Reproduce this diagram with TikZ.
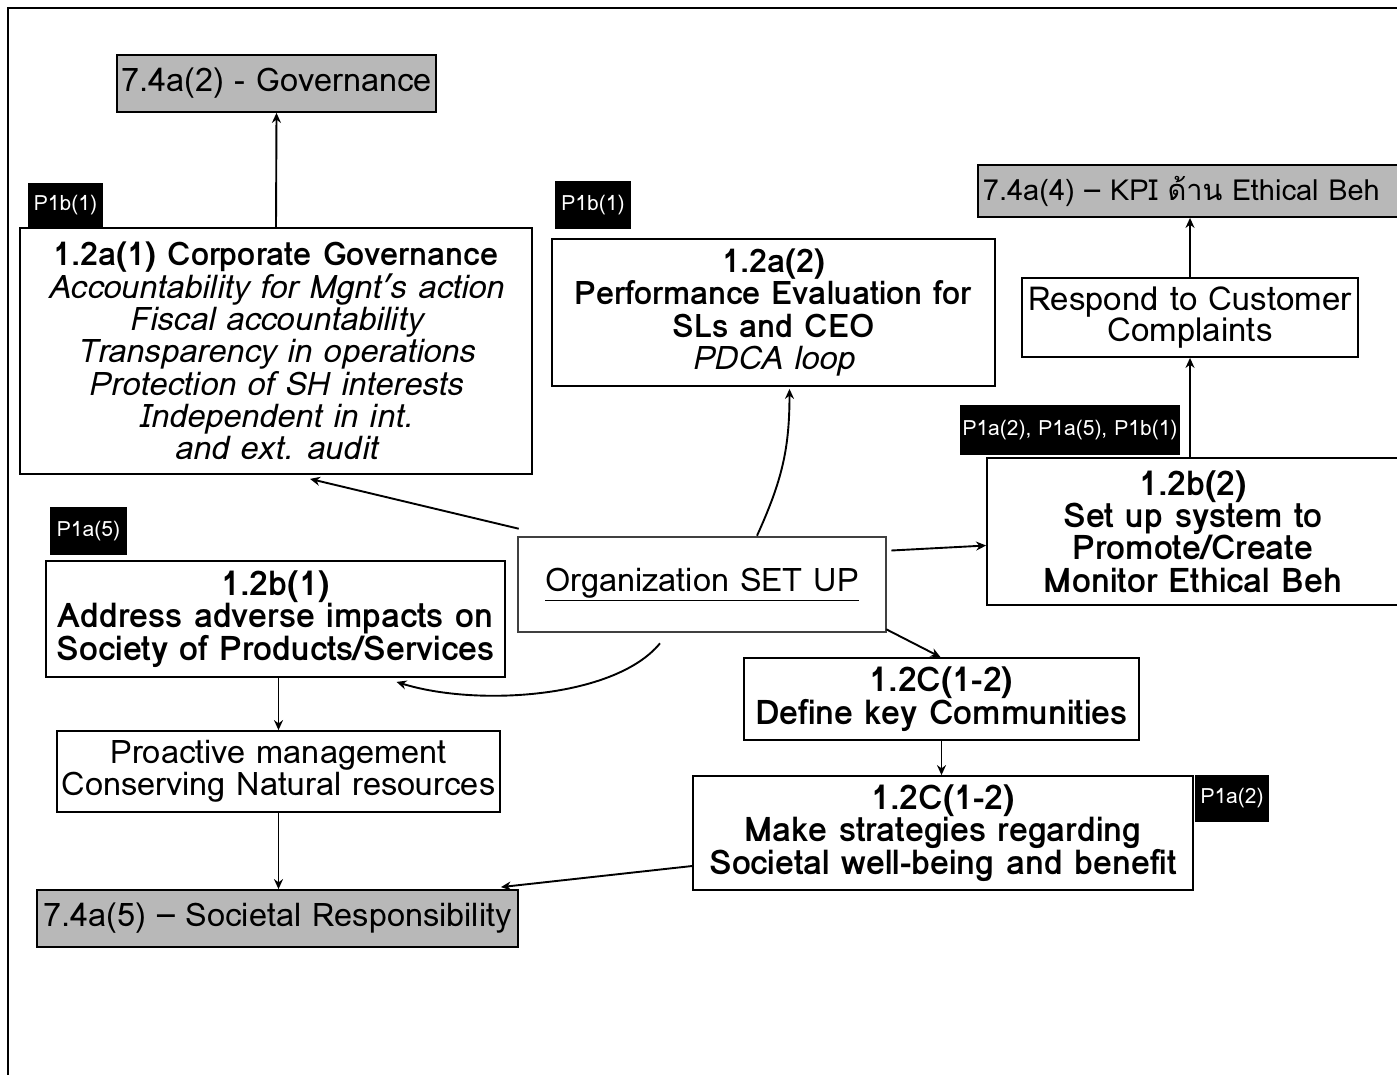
\documentclass[tikz,border=0pt]{standalone}
\usepackage{fontspec}
\setmainfont{Loma}[Script=Thai]
\usetikzlibrary{arrows.meta,calc}
\begin{document}
\begin{tikzpicture}[x=1pt,y=-1pt,
  box/.style={draw,line width=1.8pt,inner sep=0pt,align=center,
    font=\fontsize{32.5}{32.3}\selectfont},
  boldbox/.style={box,font=\bfseries\fontsize{34}{32.3}\selectfont},
  refbox/.style={box,fill=black!28,font=\fontsize{32.5}{32}\selectfont},
  tag/.style={fill=black,text=white,inner sep=0pt,
    font=\fontsize{21}{22}\selectfont},
  arr/.style={line width=1.9pt,-{Stealth[length=10pt,width=9pt]}}]
\useasboundingbox (0,0) rectangle (1397,1074);
\clip (0,0) rectangle (1397,1074);
% frame
\draw[line width=1.8pt] (8,1090) -- (8,8) -- (1410,8);

% left column
\node[refbox,minimum width=319pt,minimum height=57pt] (gov) at (276.5,83.5) {7.4a(2) - Governance};
\node[tag,minimum width=75pt,minimum height=45pt] (tA) at (65.5,205.5) {P1b(1)};
\node[box,minimum width=512pt,minimum height=246pt] (cg) at (276,351)
  {\textbf{1.2a(1) Corporate Governance}\\ \itshape Accountability for Mgnt's action\\
   \itshape Fiscal accountability\\ \itshape Transparency in operations\\
   \itshape Protection of SH interests\\ \itshape Independent in int.\\ \itshape and ext. audit};
\node[tag,minimum width=77pt,minimum height=48pt] (tD) at (88.5,531) {P1a(5)};
\node[boldbox,minimum width=459pt,minimum height=116pt] (b1) at (275.5,619)
  {1.2b(1)\\ Address adverse impacts on\\ Society of Products/Services};
\node[box,minimum width=443pt,minimum height=81pt] (pro) at (278.5,771.5)
  {Proactive management\\ Conserving Natural resources};
\node[refbox,minimum width=481pt,minimum height=57pt] (soc) at (277.5,918.5) {7.4a(5) – Societal Responsibility};

% middle column
\node[tag,minimum width=76pt,minimum height=48pt] (tB) at (593,205) {P1b(1)};
\node[box,minimum width=443pt,minimum height=147pt] (perf) at (773.5,312.5)
  {\textbf{1.2a(2)}\\ \textbf{Performance Evaluation for}\\ \textbf{SLs and CEO}\\ \itshape PDCA loop};
\node[box,draw=black!75,line width=2.6pt,minimum width=368pt,minimum height=95pt] (org) at (702,584.5)
  {\underline{Organization SET UP}};
\node[boldbox,minimum width=395pt,minimum height=82pt] (def) at (941.5,699)
  {1.2C(1-2)\\ Define key Communities};
\node[boldbox,minimum width=500pt,minimum height=114pt] (make) at (943,833)
  {1.2C(1-2)\\ Make strategies regarding\\ Societal well-being and benefit};
\node[tag,minimum width=74pt,minimum height=47pt] (tE) at (1232,798.5) {P1a(2)};

% right column
\node[refbox,font=\fontsize{29}{30}\selectfont,anchor=west,minimum height=52pt,
  text width=450pt,align=left,inner xsep=5pt] (kpi) at (977,191)
  {7.4a(4) – KPI ด้าน Ethical Beh};
\node[box,font=\fontsize{33}{31}\selectfont,minimum width=336pt,minimum height=79pt] (resp) at (1190,317.5)
  {Respond to Customer\\ Complaints};
\node[tag,minimum width=220pt,minimum height=50pt] (tC) at (1070,430) {P1a(2), P1a(5), P1b(1)};
\node[boldbox,minimum width=412pt,minimum height=147pt] (b2) at (1193,531.5)
  {1.2b(2)\\ Set up system to\\ Promote/Create\\ Monitor Ethical Beh};

% connectors
\draw[arr] (cg.north) -- (gov.south);
\draw[arr] ($(org.north west)+(2,-7)$) -- ($(cg.south)+(34,4)$);
\draw[arr] ($(org.north)+(55,0)$) .. controls +(25,-55) and +(0,60) .. ($(perf.south)+(16,2)$);
\draw[arr] ($(org.east)+(4,-34)$) -- ($(b2.west)+(0,14)$);
\draw[arr] ($(org.south east)+(-1,-4)$) -- ($(def.north)+(-1,0)$);
\draw[arr] ($(org.south)+(-42,10)$) .. controls +(-45,55) and +(80,25) .. ($(b1.south)+(121,4)$);
\draw[arr] (def.south) -- (def.south |- make.north);
\draw[arr] (resp.south |- b2.north) -- (resp.south);
\draw[arr] (resp.north) -- (resp.north |- kpi.south);
\draw[arr] (pro.north |- b1.south) -- (pro.north);
\draw[arr] (pro.south) -- (pro.south |- soc.north);
\draw[arr] ($(make.west)+(0,33)$) -- ($(soc.north east)+(-18,-2)$);
\end{tikzpicture}
\end{document}
